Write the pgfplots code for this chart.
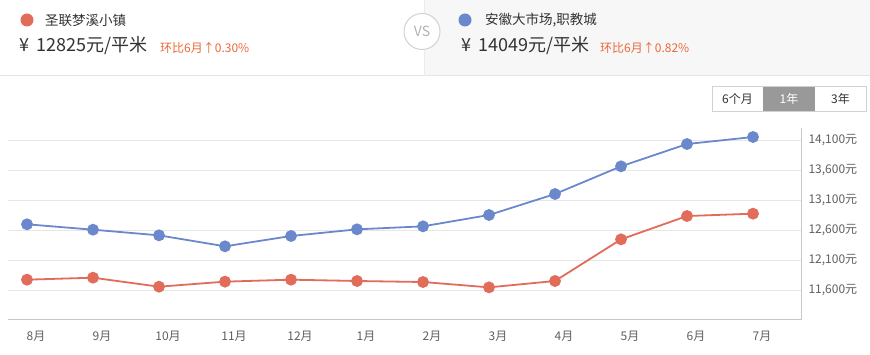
\documentclass[border=0pt]{standalone}
\usepackage{pgfplots}
\pgfplotsset{compat=1.18}
\usepackage{fontspec}
\setmainfont{Noto Sans CJK SC}
\definecolor{cred}{RGB}{226,108,90}
\definecolor{cblue}{RGB}{108,136,204}
\definecolor{corange}{RGB}{236,104,56}
\definecolor{ctext}{RGB}{51,51,51}
\definecolor{cgray}{RGB}{95,95,95}
\definecolor{cgrid}{RGB}{230,230,230}
\definecolor{cline}{RGB}{200,200,200}
\begin{document}
\begin{tikzpicture}[x=1pt,y=1pt]
\useasboundingbox[fill=white] (0,0) rectangle (870,355);
% header
\fill[black!3] (424,279) rectangle (870,355);
\draw[black!10,line width=1pt] (0,279) -- (870,279);
\draw[black!8,line width=0.8pt] (424,279) -- (424,355);
\draw[black!18,fill=white,line width=1pt] (422,323.5) circle (18);
\node[text=black!30,font=\fontsize{14}{16}\selectfont] at (422,323.5) {VS};
% left
\fill[cred] (27,335) circle (6.5);
\node[anchor=west,text=ctext,font=\fontsize{13.5}{16}\selectfont,inner sep=0] at (45,335) {圣联梦溪小镇};
\node[anchor=west,text=ctext,font=\fontsize{18}{20}\selectfont,inner sep=0] at (19,309) {¥\hspace{7pt}12825元/平米};
\node[anchor=west,text=corange,font=\fontsize{12}{14}\selectfont,inner sep=0] at (160,307.5) {环比6月↑0.30\%};
% right
\fill[cblue] (465,335) circle (6.5);
\node[anchor=west,text=ctext,font=\fontsize{13.5}{16}\selectfont,inner sep=0] at (485,335) {安徽大市场,职教城};
\node[anchor=west,text=ctext,font=\fontsize{18}{20}\selectfont,inner sep=0] at (461,309) {¥\hspace{7pt}14049元/平米};
\node[anchor=west,text=corange,font=\fontsize{12}{14}\selectfont,inner sep=0] at (600,307.5) {环比6月↑0.82\%};
% buttons
\fill[black!40] (763,244) rectangle (815,269);
\draw[black!18,line width=0.8pt] (712,244) rectangle (866,269);
\node[text=ctext,font=\fontsize{12}{14}\selectfont] at (737.5,256.5) {6个月};
\node[text=white,font=\fontsize{12}{14}\selectfont] at (789,256.5) {1年};
\node[text=ctext,font=\fontsize{12}{14}\selectfont] at (840.5,256.5) {3年};
% chart
\begin{axis}[
  at={(8pt,35pt)}, anchor=south west,
  scale only axis, width=793pt, height=192pt,
  xmin=-0.288, xmax=11.727, ymin=11100, ymax=14300,
  axis x line*=bottom, axis y line*=right,
  axis line style={cline,line width=1pt},
  scaled y ticks=false,
  xtick={0,...,11},
  xticklabels={8月,9月,10月,11月,12月,1月,2月,3月,4月,5月,6月,7月},
  ytick={11600,12100,12600,13100,13600,14100},
  yticklabels={{11,600元},{12,100元},{12,600元},{13,100元},{13,600元},{14,100元}},
  major tick length=0pt,
  ymajorgrids, grid style={cgrid,line width=0.8pt},
  xticklabel style={text=cgray,font=\fontsize{12}{14}\selectfont,xshift=9pt,yshift=-8pt},
  yticklabel style={text=cgray,font=\fontsize{12}{14}\selectfont,anchor=west,xshift=4pt},
  clip=false,
]
\addplot[cblue,line width=1.8pt,mark=*,mark size=5pt,mark options={fill=cblue,draw=cblue}] coordinates {
(0,12695) (1,12605) (2,12511) (3,12328) (4,12500) (5,12611) (6,12661) (7,12850) (8,13200) (9,13661) (10,14033) (11,14150)};
\addplot[cred,line width=1.8pt,mark=*,mark size=5pt,mark options={fill=cred,draw=cred}] coordinates {
(0,11772) (1,11805) (2,11655) (3,11739) (4,11772) (5,11750) (6,11733) (7,11644) (8,11750) (9,12444) (10,12833) (11,12872)};
\end{axis}
\end{tikzpicture}
\end{document}
